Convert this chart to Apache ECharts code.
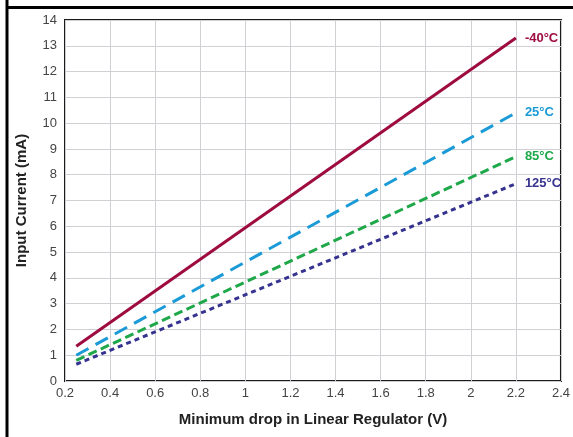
<!DOCTYPE html>
<html><head><meta charset="utf-8">
<script src="https://cdn.jsdelivr.net/npm/echarts@6/dist/echarts.min.js"></script>
<style>html,body{margin:0;padding:0;background:#fff}#c{width:573px;height:437px}</style>
</head><body><div id="c"></div>
<script>
const seriesNames = ['-40°C', '25°C', '85°C', '125°C'];
const dropV = [0.25, 2.2];
const current_m40 = [1.35, 13.3];
const current_25 = [1.0, 10.4];
const current_85 = [0.8, 8.7];
const current_125 = [0.65, 7.65];
const xTicks = [0.2, 0.4, 0.6, 0.8, 1, 1.2, 1.4, 1.6, 1.8, 2, 2.2, 2.4];
const yTicks = [0,1,2,3,4,5,6,7,8,9,10,11,12,13,14];

const colors = ['#9e0b3f', '#1a9ad6', '#1fa84a', '#35338f'];
const dashes = ['solid', [14, 8], [9, 4.5], [5, 4]];
const values = [current_m40, current_25, current_85, current_125];

const chart = echarts.init(document.getElementById('c'));
chart.setOption({
  animation: false,
  grid: {left: 65, top: 20, width: 499, height: 361, show: true, borderColor: '#1a1a1a', borderWidth: 2, backgroundColor: 'transparent'},
  graphic: [
    {type: 'line', shape: {x1: 7, y1: 0, x2: 7, y2: 437}, style: {stroke: '#000', lineWidth: 3}},
    {type: 'line', shape: {x1: 6, y1: 7.5, x2: 573, y2: 7.5}, style: {stroke: '#000', lineWidth: 3}}
  ],
  xAxis: {
    type: 'value', min: 0.2, max: 2.4, interval: 0.2,
    name: 'Minimum drop in Linear Regulator (V)', nameLocation: 'middle', nameGap: 31,
    nameTextStyle: {fontFamily: 'Liberation Sans', fontWeight: 'bold', fontSize: 15, color: '#222'},
    axisLine: {show: false}, axisTick: {show: false},
    axisLabel: {fontFamily: 'Liberation Sans', fontSize: 13, color: '#444', margin: 6,
      formatter: v => { const m = xTicks.find(t => Math.abs(t - v) < 1e-6); return m === undefined ? '' : String(m); }},
    splitLine: {show: true, lineStyle: {color: '#cfcfd4', width: 1}}
  },
  yAxis: {
    type: 'value', min: 0, max: 14, interval: 1,
    name: 'Input Current (mA)', nameLocation: 'middle', nameGap: 36, nameRotate: 90,
    nameTextStyle: {fontFamily: 'Liberation Sans', fontWeight: 'bold', fontSize: 15, color: '#222'},
    axisLine: {show: false}, axisTick: {show: false},
    axisLabel: {fontFamily: 'Liberation Sans', fontSize: 13, color: '#444', margin: 8,
      formatter: v => { const m = yTicks.find(t => Math.abs(t - v) < 1e-6); return m === undefined ? '' : String(m); }},
    splitLine: {show: true, lineStyle: {color: '#cfcfd4', width: 1}}
  },
  series: seriesNames.map((n, i) => ({
    name: n, type: 'line', showSymbol: false, symbol: 'none',
    data: dropV.map((x, j) => [x, values[i][j]]),
    lineStyle: {color: colors[i], width: 3, type: dashes[i], cap: 'butt'},
    endLabel: {show: true, formatter: '{a}', color: colors[i], fontFamily: 'Liberation Sans', fontWeight: 'bold', fontSize: 13, distance: 9}
  }))
});
</script></body></html>
